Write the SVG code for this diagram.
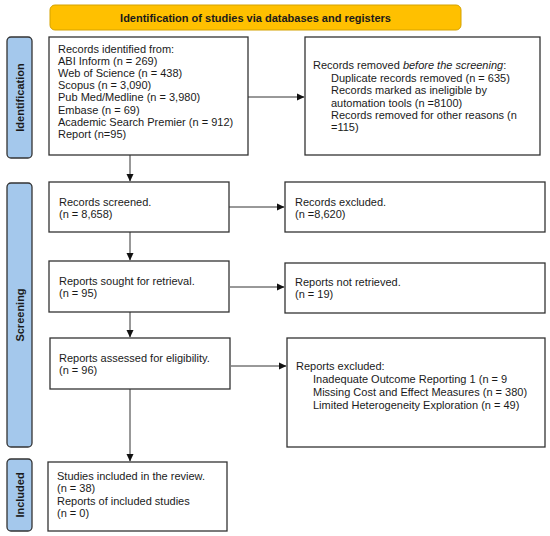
<svg xmlns="http://www.w3.org/2000/svg" width="550" height="536" viewBox="0 0 550 536">
<style>
  text { font-family: "Liberation Sans", Arial, sans-serif; font-size: 11px; fill: #1a1a1a; }
  .box { fill: #ffffff; stroke: #333333; stroke-width: 1.3; }
  .side { fill: #a4c8ec; stroke: #333333; stroke-width: 1.3; }
  .sidet { font-weight: bold; font-size: 11px; }
  .conn { stroke: #333333; stroke-width: 1; fill: none; marker-end: url(#ah); }
</style>
<defs>
  <marker id="ah" markerWidth="8" markerHeight="8" refX="7" refY="4" orient="auto" markerUnits="userSpaceOnUse">
    <path d="M0,0.5 L7.5,4 L0,7.5 Z" fill="#111111"/>
  </marker>
</defs>
<rect width="550" height="536" fill="#ffffff"/>

<g id="header">
  <rect x="50" y="5" width="411" height="25" rx="5" fill="#ffc000" stroke="#d4a200" stroke-width="1"/>
  <text x="255.5" y="21.5" text-anchor="middle" font-weight="bold">Identification of studies via databases and registers</text>
</g>

<g id="label-identification">
  <rect class="side" x="7" y="37" width="25" height="121" rx="4"/>
  <text class="sidet" transform="translate(23.5,97.5) rotate(-90)" text-anchor="middle">Identification</text>
</g>
<g id="label-screening">
  <rect class="side" x="7" y="183" width="25" height="264" rx="4"/>
  <text class="sidet" transform="translate(23.5,315) rotate(-90)" text-anchor="middle">Screening</text>
</g>
<g id="label-included">
  <rect class="side" x="7" y="459" width="25" height="72" rx="4"/>
  <text class="sidet" transform="translate(23.5,495) rotate(-90)" text-anchor="middle">Included</text>
</g>

<g id="records-identified">
  <rect class="box" x="49" y="37" width="199" height="118"/>
  <text x="58" y="53">Records identified from:</text>
  <text x="58" y="65">ABI Inform (n = 269)</text>
  <text x="58" y="77">Web of Science (n = 438)</text>
  <text x="58" y="89">Scopus (n = 3,090)</text>
  <text x="58" y="101">Pub Med/Medline (n = 3,980)</text>
  <text x="58" y="113.5">Embase (n = 69)</text>
  <text x="58" y="125.5">Academic Search Premier (n = 912)</text>
  <text x="58" y="137.5">Report (n=95)</text>
</g>

<g id="records-removed">
  <rect class="box" x="305" y="37" width="235" height="118"/>
  <text x="313" y="69">Records removed <tspan font-style="italic">before the screening</tspan>:</text>
  <text x="331" y="81.5">Duplicate records removed (n = 635)</text>
  <text x="331" y="94">Records marked as ineligible by</text>
  <text x="331" y="106.5">automation tools (n =8100)</text>
  <text x="331" y="119">Records removed for other reasons (n</text>
  <text x="331" y="131">=115)</text>
</g>

<g id="records-screened">
  <rect class="box" x="49" y="182" width="180" height="50"/>
  <text x="59" y="206">Records screened.</text>
  <text x="59" y="218">(n = 8,658)</text>
</g>

<g id="records-excluded">
  <rect class="box" x="285" y="182" width="260" height="50"/>
  <text x="295" y="206">Records excluded.</text>
  <text x="295" y="218">(n =8,620)</text>
</g>

<g id="reports-sought">
  <rect class="box" x="49" y="261" width="180" height="51"/>
  <text x="59" y="285">Reports sought for retrieval.</text>
  <text x="59" y="297">(n = 95)</text>
</g>

<g id="reports-not-retrieved">
  <rect class="box" x="285" y="263" width="260" height="50"/>
  <text x="295" y="286">Reports not retrieved.</text>
  <text x="295" y="298">(n = 19)</text>
</g>

<g id="reports-assessed">
  <rect class="box" x="50" y="338" width="180" height="51"/>
  <text x="59" y="362">Reports assessed for eligibility.</text>
  <text x="59" y="374">(n = 96)</text>
</g>

<g id="reports-excluded">
  <rect class="box" x="287" y="338" width="258" height="109"/>
  <text x="296" y="370">Reports excluded:</text>
  <text x="313" y="383">Inadequate Outcome Reporting 1 (n = 9</text>
  <text x="313" y="396">Missing Cost and Effect Measures (n = 380)</text>
  <text x="313" y="409">Limited Heterogeneity Exploration (n = 49)</text>
</g>

<g id="studies-included">
  <rect class="box" x="48" y="462" width="179" height="69"/>
  <text x="57" y="480">Studies included in the review.</text>
  <text x="57" y="492">(n = 38)</text>
  <text x="57" y="505">Reports of included studies</text>
  <text x="57" y="517">(n = 0)</text>
</g>

<g id="connectors">
  <line class="conn" x1="248" y1="97" x2="304" y2="97"/>
  <line class="conn" x1="130" y1="155" x2="130" y2="181"/>
  <line class="conn" x1="229" y1="207" x2="284" y2="207"/>
  <line class="conn" x1="130" y1="232" x2="130" y2="260"/>
  <line class="conn" x1="230" y1="287" x2="284" y2="287"/>
  <line class="conn" x1="130" y1="312" x2="130" y2="337"/>
  <line class="conn" x1="231" y1="366" x2="286" y2="366"/>
  <line class="conn" x1="130" y1="389" x2="130" y2="461"/>
</g>
</svg>
